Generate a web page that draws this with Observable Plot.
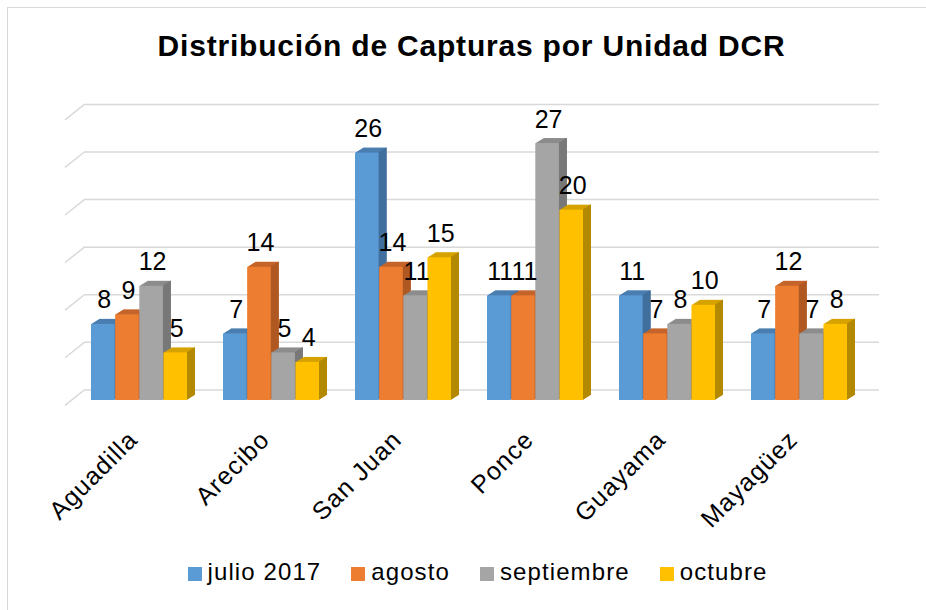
<!DOCTYPE html>
<html>
<head>
<meta charset="utf-8">
<script src="https://cdn.jsdelivr.net/npm/d3@7"></script>
<script src="https://cdn.jsdelivr.net/npm/@observablehq/plot@0.6"></script>
<style>
  html, body { margin: 0; padding: 0; background: #fff; width: 926px; height: 610px; overflow: hidden; }
  body { position: relative; font-family: "Liberation Sans", Arial, sans-serif; color: #000; }
  #frame { position: absolute; left: 7px; top: 7px; width: 1000px; height: 1000px; border: 1.5px solid #d9d9d9; box-sizing: border-box; pointer-events: none; }
  #title { height: 39px; padding-top: 31px; padding-left: 17px; text-align: center; font-size: 30px; line-height: 30px; font-weight: bold; letter-spacing: 0.8px; white-space: nowrap; }
  #chart svg { display: block; }
  #chart text.cat { letter-spacing: 1.1px; }
  #legend { display: flex; justify-content: center; align-items: center; padding-top: 12px; padding-left: 29px; font-size: 24px; line-height: 24px; letter-spacing: 1.1px; }
  .item { display: flex; align-items: center; margin: 0 15px; }
  .sw { width: 14px; height: 14px; margin-right: 6px; position: relative; top: 1.5px; }
</style>
</head>
<body>
<div id="frame"></div>
<div id="title">Distribución de Capturas por Unidad DCR</div>
<div id="chart"></div>
<div id="legend"></div>
<script>
// ---- data ----
const units = ["Aguadilla", "Arecibo", "San Juan", "Ponce", "Guayama", "Mayagüez"];
const seriesNames = ["julio 2017", "agosto", "septiembre", "octubre"];
const julio2017 = [8, 7, 26, 11, 11, 7];
const agosto = [9, 14, 14, 11, 7, 12];
const septiembre = [12, 5, 11, 27, 8, 7];
const octubre = [5, 4, 15, 20, 10, 8];
const gridTicks = [0, 5, 10, 15, 20, 25, 30];

const seriesValues = [julio2017, agosto, septiembre, octubre];
const colors = ["#5B9BD5", "#ED7D31", "#A5A5A5", "#FFC000"];
const topColors = ["#4A7DB0", "#C5642A", "#8C8C8C", "#D6A200"];
const sideColors = ["#3E6A95", "#A85420", "#767676", "#AE8600"];

// ---- layout ----
const W = 926, H = 478, ML = 72, MR = 60, MT = 44.5, MB = 148;
const padInner = 0.27, padOuter = 0.135;
const step = (W - ML - MR) / (units.length - padInner + 2 * padOuter);
const bw = step * (1 - padInner);
const q = bw / seriesNames.length;
const depthX = 8, depthY = 5;
const gridColor = "#d9d9d9";

const rows = seriesValues.map((vals, i) =>
  units.map((u, j) => ({unit: u, value: vals[j], serie: seriesNames[i]}))
);

const marks = [];
// back-wall gridlines
marks.push(Plot.ruleY(gridTicks, {stroke: gridColor, strokeWidth: 1.5, dx: 13, dy: -10.6}));
// side-wall diagonals
marks.push((index, scales, values, dimensions) => {
  const y = scales.y;
  const g = d3.create("svg:g");
  g.selectAll("line").data(gridTicks).join("line")
    .attr("x1", dimensions.marginLeft - 7).attr("y1", d => y(d) + 5.3)
    .attr("x2", dimensions.marginLeft + 13).attr("y2", d => y(d) - 10.6)
    .attr("stroke", gridColor).attr("stroke-width", 1.5);
  return g.node();
});

// bars with 3D extrusion
rows.forEach((data, i) => {
  const insetL = i * q, insetR = (seriesNames.length - 1 - i) * q;
  for (let k = 1; k <= depthX; k++) {
    marks.push(Plot.barY(data, {x: "unit", y: "value", fill: topColors[i],
      insetLeft: insetL, insetRight: insetR, dx: k, dy: -k * depthY / depthX}));
  }
  for (let k = 1; k <= depthX; k++) {
    marks.push(Plot.barY(data, {x: "unit", y: "value", fill: sideColors[i],
      insetLeft: insetL + q - 1.5, insetRight: insetR, dx: k, dy: -k * depthY / depthX}));
  }
  marks.push(Plot.barY(data, {x: "unit", y: "value", fill: colors[i],
    insetLeft: insetL, insetRight: insetR}));
});

// value labels
rows.forEach((data, i) => {
  marks.push(Plot.text(data, {x: "unit", y: "value", text: d => String(d.value),
    dx: (i - (seriesNames.length - 1) / 2) * q + 1, dy: -24, lineAnchor: "middle",
    fontSize: 25, fill: "#000"}));
});

// category labels
marks.push(Plot.text(units, {x: d => d, text: d => d, frameAnchor: "bottom",
  rotate: -45, textAnchor: "end", lineAnchor: "middle", dx: -6, dy: 35,
  fontSize: 25, fill: "#000", className: "cat"}));

const chart = Plot.plot({
  width: W, height: H,
  marginLeft: ML, marginRight: MR, marginTop: MT, marginBottom: MB,
  x: {domain: units, paddingInner: padInner, paddingOuter: padOuter, align: 0.5, axis: null},
  y: {domain: [0, 30], axis: null},
  style: {fontFamily: "'Liberation Sans', Arial, sans-serif", background: "transparent", overflow: "visible", color: "#000"},
  marks
});
document.getElementById("chart").appendChild(chart);
// letter-spacing for category labels
d3.select(chart).selectAll("g.cat text, .cat text").style("letter-spacing", "1.1px");

// legend
const legend = d3.select("#legend");
seriesNames.forEach((name, i) => {
  const it = legend.append("div").attr("class", "item");
  it.append("div").attr("class", "sw").style("background", colors[i]);
  it.append("span").text(name);
});
</script>
</body>
</html>
